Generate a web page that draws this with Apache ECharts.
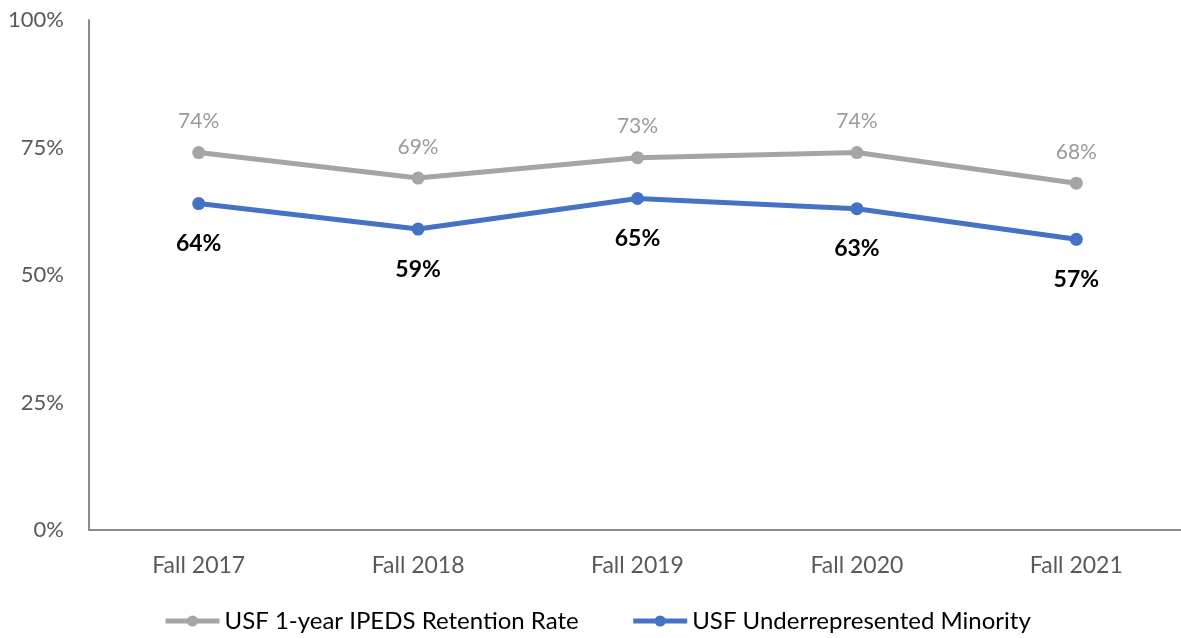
<!DOCTYPE html>
<html>
<head>
<meta charset="utf-8">
<script src="https://cdn.jsdelivr.net/npm/echarts@6/dist/echarts.min.js"></script>
<style>html,body{margin:0;padding:0;background:#fff;overflow:hidden;width:1181px;height:638px;}#c{width:1200px;height:638px;}</style>
</head>
<body>
<div id="c"></div>
<script>
const categories = ['Fall 2017', 'Fall 2018', 'Fall 2019', 'Fall 2020', 'Fall 2021'];
const retentionRate = [74, 69, 73, 74, 68];
const underrepMinority = [64, 59, 65, 63, 57];
const seriesNames = ['USF 1-year IPEDS Retention Rate', 'USF Underrepresented Minority'];

const FONT = 'Lato, "Open Sans", sans-serif';
const chart = echarts.init(document.getElementById('c'));
chart.setOption({
  animation: false,
  textStyle: { fontFamily: FONT },
  grid: { left: 89, top: 20, width: 1097, height: 510, containLabel: false },
  legend: {
    bottom: 0,
    left: 158,
    itemGap: 52,
    itemWidth: 54,
    itemHeight: 14,
    lineStyle: { width: 5 },
    textStyle: { fontSize: 24, color: '#000', fontFamily: FONT },
    data: seriesNames
  },
  xAxis: {
    type: 'category',
    data: categories,
    boundaryGap: true,
    axisLine: { lineStyle: { color: '#8c8c8c', width: 2 } },
    axisTick: { show: false },
    axisLabel: { fontSize: 23, color: '#595959', margin: 24, fontFamily: FONT }
  },
  yAxis: {
    type: 'value',
    min: 0, max: 100, interval: 25,
    axisLine: { show: true, lineStyle: { color: '#8c8c8c', width: 2 } },
    axisTick: { show: false },
    splitLine: { show: false },
    axisLabel: { fontSize: 22, color: '#595959', margin: 25, formatter: '{value}%', fontFamily: FONT }
  },
  series: [
    {
      name: seriesNames[0],
      type: 'line',
      data: retentionRate,
      color: '#A5A5A5',
      lineStyle: { width: 5, color: '#A5A5A5' },
      symbol: 'circle', symbolSize: 13,
      itemStyle: { color: '#A5A5A5' },
      label: { show: true, position: 'top', distance: 14, formatter: '{c}%', fontSize: 21, color: '#9a9a9a', fontFamily: FONT }
    },
    {
      name: seriesNames[1],
      type: 'line',
      data: underrepMinority,
      color: '#4472C4',
      lineStyle: { width: 5, color: '#4472C4' },
      symbol: 'circle', symbolSize: 13,
      itemStyle: { color: '#4472C4' },
      label: { show: true, position: 'bottom', distance: 22, formatter: '{c}%', fontSize: 23, fontWeight: 'bold', color: '#000', fontFamily: FONT }
    }
  ]
});
</script>
</body>
</html>
